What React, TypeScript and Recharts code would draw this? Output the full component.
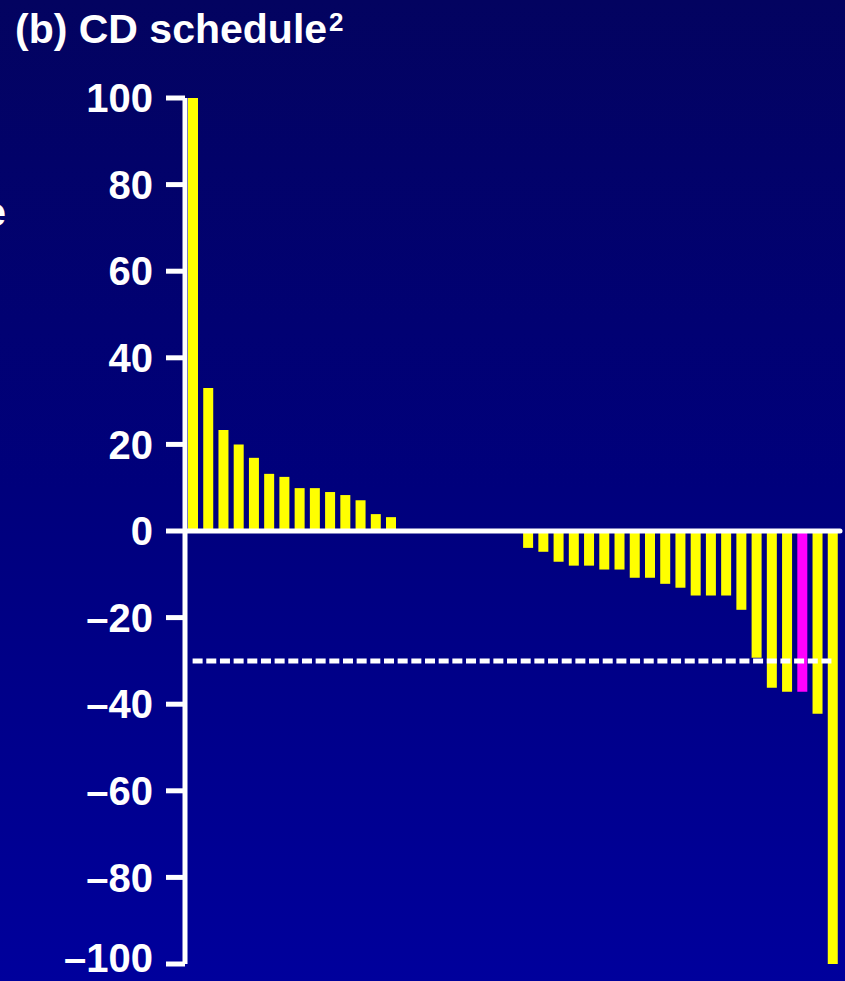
import React from "react";
import { BarChart, Bar, XAxis, YAxis, ReferenceLine, Cell } from "recharts";

// Patient order along the x axis (waterfall, best response per patient)
const patients = [
  "1", "2", "3", "4", "5", "6", "7", "8", "9", "10",
  "11", "12", "13", "14", "15", "16", "17", "18", "19", "20",
  "21", "22", "23", "24", "25", "26", "27", "28", "29", "30",
  "31", "32", "33", "34", "35", "36", "37", "38", "39", "40",
  "41", "42", "43",
];

// Percent change from baseline for each patient
const changes = [
  100, 33, 23.3, 20, 16.9, 13.2, 12.5, 9.9, 9.9, 9, 8.3, 7.1, 3.9, 3.2,
  0, 0, 0, 0, 0, 0, 0, 0,
  -3.9, -4.8, -7.1, -8, -8, -8.9, -8.9, -10.8, -10.8, -12.2, -13.1,
  -14.9, -14.9, -14.9, -18.2, -29.3, -36.2, -37.1, -37.1, -42.2, -100,
];

// Patients highlighted in magenta
const highlighted = ["41"];

const yTicks = [-100, -80, -60, -40, -20, 0, 20, 40, 60, 80, 100];
const responseThreshold = -30;

const data = patients.map((p, i) => ({ patient: p, change: changes[i] }));

const FONT = "'Liberation Sans', Arial, Helvetica, sans-serif";
const fmt = (v: number) => (v < 0 ? `\u2013${-v}` : `${v}`);

// Y tick label; the bottom label is nudged up so it stays inside the frame
const YTick = (props: any) => {
  const { x, y, payload } = props;
  const lift = payload.value === -100 ? -6 : 0;
  return (
    <text
      x={x}
      y={y + lift}
      dy="0.355em"
      textAnchor="end"
      fill="#ffffff"
      fontSize={40}
      fontWeight="bold"
      fontFamily={FONT}
    >
      {fmt(payload.value)}
    </text>
  );
};

export default function App() {
  return (
    <div
      style={{
        position: "absolute",
        left: 0,
        top: 0,
        width: 845,
        height: 981,
        overflow: "hidden",
        background: "linear-gradient(to bottom, #030360 0%, #00007c 50%, #00009c 100%)",
        fontFamily: FONT,
      }}
    >
      <BarChart
        width={845}
        height={981}
        data={data}
        margin={{ top: 98, right: 5, bottom: 17, left: 0 }}
        barSize={10}
      >
        <XAxis dataKey="patient" hide />
        <YAxis
          width={185}
          domain={[-100, 100]}
          ticks={yTicks}
          interval={0}
          axisLine={{ stroke: "#ffffff", strokeWidth: 5 }}
          tickLine={{ stroke: "#ffffff", strokeWidth: 5 }}
          tickSize={19}
          tickMargin={13}
          tick={<YTick />}
        />
        <Bar dataKey="change" isAnimationActive={false}>
          {data.map((d) => (
            <Cell key={d.patient} fill={highlighted.includes(d.patient) ? "#ff00ff" : "#ffff00"} />
          ))}
        </Bar>
        <ReferenceLine y={0} stroke="#ffffff" strokeWidth={5} strokeLinecap="round" />
        <ReferenceLine
          segment={[
            { x: patients[0], y: responseThreshold },
            { x: patients[patients.length - 1], y: responseThreshold },
          ]}
          stroke="#ffffff"
          strokeWidth={5}
          strokeDasharray="10 3.67"
        />
      </BarChart>
      <svg
        width={845}
        height={981}
        style={{ position: "absolute", left: 0, top: 0, pointerEvents: "none" }}
      >
        <text x={15} y={43} fill="#ffffff" fontSize={41} fontWeight="bold" fontFamily={FONT}>
          (b) CD schedule<tspan fontSize={26} dx={2} dy={-12}>2</tspan>
        </text>
        <text x={6} y={226} textAnchor="end" fill="#ffffff" fontSize={40} fontWeight="bold" fontFamily={FONT}>
          change
        </text>
      </svg>
    </div>
  );
}
